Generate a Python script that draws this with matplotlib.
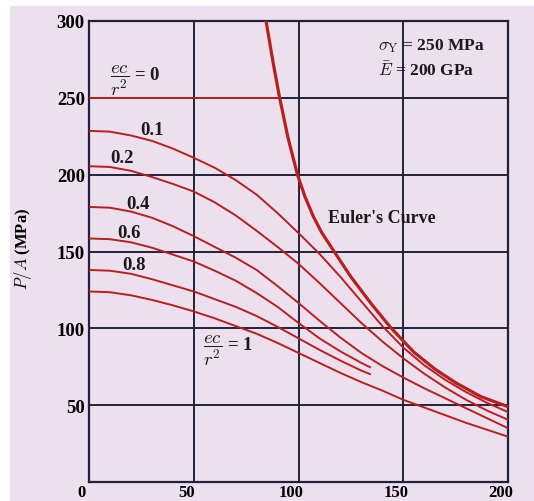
import matplotlib
matplotlib.use('Agg')
import matplotlib.pyplot as plt
from matplotlib.patches import Rectangle
from matplotlib.transforms import ScaledTranslation

# Values: L/r on x, P/A (MPa) on y
lr = [0, 10, 20, 30, 40, 50, 60, 70, 80, 90, 100, 110, 120, 130, 140, 150, 160, 170, 180, 190, 200]
pa_01 = [228.5, 228, 225.5, 222, 217, 211, 204.5, 196.5, 187, 175, 162, 148.5, 133.5, 117.5, 101.5, 87.5, 76, 66.5, 58.5, 51.5, 45.5]
pa_02 = [205.5, 205, 202.5, 198.5, 194, 189, 182, 173.5, 163.5, 153, 142, 129.5, 116.5, 103.5, 91.5, 80.5, 70.5, 61.5, 53.5, 46.5, 40.5]
pa_04 = [179, 178.5, 176, 172, 166.5, 160, 153, 146, 138, 127.5, 116.5, 105, 94, 84, 75.5, 68, 61, 54.5, 48, 41.5, 35]
pa_10 = [124, 123.5, 121.5, 118.5, 115, 111, 106.5, 101.5, 96.5, 90.5, 84, 77.5, 71, 65, 59.5, 53.5, 48.5, 43.5, 38.5, 34, 29.5]

# 0.6 and 0.8 stop short on the chart
lr_short = [0, 10, 20, 30, 40, 50, 60, 70, 80, 90, 100, 110, 120, 130, 134.5]
pa_06 = [158.5, 158, 156, 152.5, 148, 143.5, 137.5, 131, 123, 114, 103.5, 93.5, 85, 77.5, 74.5]
pa_08 = [138, 137.5, 135.5, 132, 128, 124, 119, 114, 108, 101, 93.5, 86, 79, 72.5, 70]

# ec/r^2 = 0 -> flat at yield stress until it meets Euler
flat_lr = [0, 91]
flat_pa = [250, 250]

euler_lr = [84.5, 88, 91, 95, 99.5, 103, 107, 111, 117, 125, 135, 144, 155, 165, 175, 187, 200]
euler_pa = [300, 272, 250, 224, 200, 186, 173, 162.5, 150, 133.5, 115.5, 100.5, 84.6, 73.6, 64.6, 55.6, 49]

x_ticks = [0, 50, 100, 150, 200]
y_ticks = [50, 100, 150, 200, 250, 300]

paper = '#ECDFEE'
red = '#B8201E'
ink = '#22223A'

plt.rcParams['mathtext.fontset'] = 'cm'
serif = 'Liberation Serif'

fig = plt.figure(figsize=(5.34, 5.02), dpi=100, facecolor=paper)
# white scan border on left / top
fig.patches.append(Rectangle((0, 0), 10 / 534, 1, transform=fig.transFigure, fc='white', ec='none', zorder=-5))
fig.patches.append(Rectangle((0, 1 - 7 / 502), 1, 7 / 502, transform=fig.transFigure, fc='white', ec='none', zorder=-5))

ax = fig.add_axes([89 / 534, 19 / 502, 419 / 534, 461 / 502])
ax.set_facecolor(paper)

curve_kw = dict(color=red, linewidth=1.4, solid_capstyle='butt', zorder=3)
ax.plot(flat_lr, flat_pa, **curve_kw)
for y in (pa_01, pa_02, pa_04, pa_10):
    ax.plot(lr, y, **curve_kw)
for y in (pa_06, pa_08):
    ax.plot(lr_short, y, **curve_kw)
ax.plot(euler_lr, euler_pa, color=red, linewidth=2.3, zorder=4)

ax.set_xlim(0, 200)
ax.set_ylim(0, 300)
ax.set_xticks(x_ticks)
ax.set_yticks(y_ticks)
ax.grid(True, color=ink, linewidth=1.4)
ax.set_axisbelow(True)
for s in ax.spines.values():
    s.set_color(ink)
    s.set_linewidth(1.6)

ax.tick_params(length=0, pad=3, labelsize=13.5)
for lab in ax.get_xticklabels() + ax.get_yticklabels():
    lab.set_fontfamily(serif)
    lab.set_fontweight('bold')
ax.tick_params(axis='x', pad=1.5, labelsize=12)
for lab in ax.get_xticklabels():
    lab.set_transform(lab.get_transform() + ScaledTranslation(-0.07, 0, fig.dpi_scale_trans))

ax.set_ylabel(r'$P/A$ (MPa)', fontfamily=serif, fontweight='bold', fontsize=12)
ax.yaxis.set_label_coords(-0.131, 0.508)

txt = dict(fontfamily=serif, fontweight='bold', color='#1a1a1a', va='center', ha='left', zorder=5)
ax.text(10, 262, r'$\dfrac{ec}{r^2}$ = 0', fontsize=13.5, **txt)
ax.text(24.3, 229.6, '0.1', fontsize=13.5, **txt)
ax.text(10, 211, '0.2', fontsize=13.5, **txt)
ax.text(18, 181, '0.4', fontsize=13.5, **txt)
ax.text(13.4, 162.5, '0.6', fontsize=13.5, **txt)
ax.text(15.8, 141.6, '0.8', fontsize=13.5, **txt)
ax.text(54.4, 86, r'$\dfrac{ec}{r^2}$ = 1', fontsize=13.5, **txt)
ax.text(138, 284.4, r'$\sigma_\mathrm{Y}$ = 250 MPa', fontsize=12.5, **txt)
ax.text(138, 268.2, r'$\bar{E}$ = 200 GPa', fontsize=12.5, **txt)
ax.text(114, 172.4, "Euler's Curve", fontsize=13, **txt)

fig.savefig('out.png', dpi=100, facecolor=paper)
